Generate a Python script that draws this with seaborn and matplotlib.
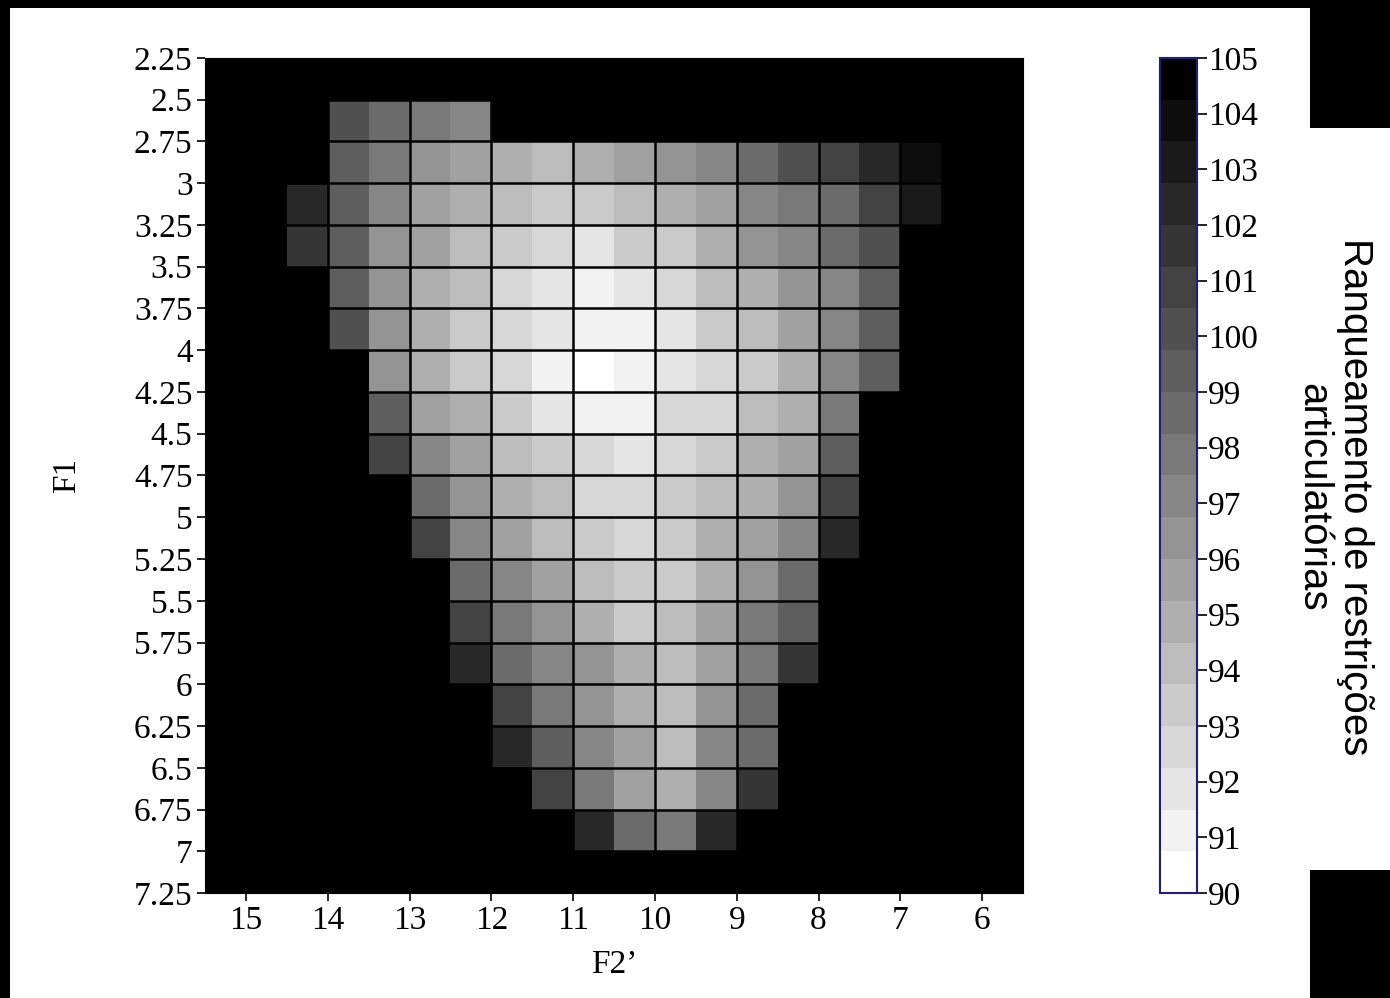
import numpy as np
import pandas as pd
import seaborn as sns
import matplotlib.pyplot as plt
from matplotlib.colors import ListedColormap
from matplotlib.patches import Rectangle

# cell centres (F2' cells are 0.5 wide, F1 cells 0.25 high)
f2_centres = [15.25, 14.75, 14.25, 13.75, 13.25, 12.75, 12.25, 11.75, 11.25, 10.75,
              10.25, 9.75, 9.25, 8.75, 8.25, 7.75, 7.25, 6.75, 6.25, 5.75]
f1_centres = [2.375, 2.625, 2.875, 3.125, 3.375, 3.625, 3.875, 4.125, 4.375, 4.625,
              4.875, 5.125, 5.375, 5.625, 5.875, 6.125, 6.375, 6.625, 6.875, 7.125]

# rows that hold values: F1 centre, F2' centre of the first (leftmost) cell, ranks left to right
row_f1 = [2.625, 2.875, 3.125, 3.375, 3.625, 3.875, 4.125, 4.375, 4.625,
          4.875, 5.125, 5.375, 5.625, 5.875, 6.125, 6.375, 6.625, 6.875]
row_first_f2 = [13.75, 13.75, 14.25, 14.25, 13.75, 13.75, 13.25, 13.25, 13.25,
                12.75, 12.75, 12.25, 12.25, 12.25, 11.75, 11.75, 11.25, 10.75]
row_rank = [
    [100.1, 98.6, 97.9, 97.1],
    [99.4, 97.9, 96.4, 95.6, 94.9, 94.1, 94.9, 95.6, 96.4, 97.1, 98.6, 100.1, 100.9, 102.4, 103.9],
    [102.4, 99.4, 97.1, 95.6, 94.9, 94.1, 93.4, 93.4, 94.1, 94.9, 95.6, 97.1, 97.9, 98.6, 100.9, 103.1],
    [101.6, 99.4, 96.4, 95.6, 94.1, 93.4, 92.6, 91.9, 93.4, 93.4, 94.9, 96.4, 97.1, 98.6, 100.1],
    [99.4, 96.4, 94.9, 94.1, 92.6, 91.9, 91.1, 91.9, 92.6, 94.1, 94.9, 96.4, 97.1, 99.4],
    [100.1, 96.4, 94.9, 93.4, 92.6, 91.9, 91.1, 91.1, 91.9, 93.4, 94.1, 95.6, 97.1, 99.4],
    [96.4, 94.9, 93.4, 92.6, 91.1, 90.4, 91.1, 91.9, 92.6, 93.4, 94.9, 97.1, 99.4],
    [99.4, 95.6, 94.9, 93.4, 91.9, 91.1, 91.1, 92.6, 92.6, 94.1, 94.9, 97.9],
    [100.9, 97.1, 95.6, 94.1, 93.4, 92.6, 91.9, 92.6, 93.4, 94.9, 95.6, 99.4],
    [98.6, 96.4, 94.9, 94.1, 92.6, 92.6, 93.4, 94.1, 94.9, 96.4, 100.9],
    [100.9, 97.1, 95.6, 94.1, 93.4, 92.6, 93.4, 94.9, 95.6, 97.1, 102.4],
    [98.6, 97.1, 95.6, 94.1, 93.4, 93.4, 94.9, 96.4, 98.6],
    [100.9, 97.9, 96.4, 94.9, 93.4, 94.1, 95.6, 97.9, 99.4],
    [102.4, 98.6, 97.1, 96.4, 94.9, 94.1, 95.6, 97.9, 101.6],
    [100.9, 97.9, 96.4, 94.9, 94.1, 96.4, 98.6],
    [102.4, 99.4, 97.1, 95.6, 94.1, 97.1, 98.6],
    [100.9, 97.9, 95.6, 94.9, 97.1, 101.6],
    [102.4, 98.6, 97.9, 102.4],
]

f2_ticks = [15, 14, 13, 12, 11, 10, 9, 8, 7, 6]
f1_ticks = [2.25, 2.5, 2.75, 3, 3.25, 3.5, 3.75, 4, 4.25, 4.5, 4.75,
            5, 5.25, 5.5, 5.75, 6, 6.25, 6.5, 6.75, 7, 7.25]
cbar_ticks = [90, 91, 92, 93, 94, 95, 96, 97, 98, 99, 100, 101, 102, 103, 104, 105]

grid = pd.DataFrame(np.nan, index=f1_centres, columns=f2_centres)
for f1, f2, vals in zip(row_f1, row_first_f2, row_rank):
    c0 = f2_centres.index(f2)
    grid.loc[f1, f2_centres[c0:c0 + len(vals)]] = vals

sns.set_style('ticks')
plt.rcParams['font.family'] = ['Liberation Serif', 'DejaVu Serif']
plt.rcParams.update({'text.color': 'black', 'axes.labelcolor': 'black',
                     'xtick.color': 'black', 'ytick.color': 'black'})

fig = plt.figure(figsize=(13.9, 9.98), dpi=100)
ax = fig.add_axes([0.1475, 0.1052, 0.5885, 0.8367])
cax = fig.add_axes([0.8345, 0.1052, 0.0266, 0.8367])
ax.set_facecolor('black')

greys = ListedColormap(plt.cm.gray_r(np.linspace(0, 1, 20)))  # 20 discrete grey steps
sns.heatmap(grid, cmap=greys, vmin=90, vmax=105, ax=ax, cbar_ax=cax,
            xticklabels=False, yticklabels=False)

# black grid: every F1 row, every whole F2' unit
for i in range(len(f1_centres) + 1):
    ax.axhline(i, color='black', lw=1.8)
f2_left = f2_centres[0] + 0.25
for v in f2_ticks:
    ax.axvline((f2_left - v) / 0.5, color='black', lw=1.8)

f1_top = f1_centres[0] - 0.125
ax.set_xticks([(f2_left - v) / 0.5 for v in f2_ticks])
ax.set_xticklabels([f"{v:g}" for v in f2_ticks], rotation=0)
ax.set_yticks([(v - f1_top) / 0.25 for v in f1_ticks])
ax.set_yticklabels([f"{v:g}" for v in f1_ticks], rotation=0)
ax.tick_params(bottom=True, left=True, direction='out', length=6, width=1.2,
               labelsize=24, pad=3, color='black', labelcolor='black')
for s in ax.spines.values():
    s.set_visible(True)
    s.set_color('black')

ax.set_xlabel("F2’", fontsize=24, color='black')
ax.xaxis.set_label_coords(0.5, -0.068)
ax.set_ylabel("F1", fontsize=24, color='black')
ax.yaxis.set_label_coords(-0.15, 0.5)

cbar = ax.collections[0].colorbar
cbar.set_ticks(cbar_ticks)
cbar.set_ticklabels([str(t) for t in cbar_ticks])
cbar.outline.set_visible(True)
cbar.outline.set_edgecolor('#1c1c8a')
cbar.outline.set_linewidth(1.5)
cax.tick_params(right=True, direction='out', length=7, width=1.2, labelsize=24, pad=1,
                color='black', labelcolor='black')

fig.text(1334 / 1390, 1 - 497 / 998, "Ranqueamento de restrições\narticulatórias",
         rotation=270, ha='center', va='center', multialignment='center',
         linespacing=1.1, fontsize=29, color='black',
         family=['Liberation Sans', 'DejaVu Sans'])

# dark border pieces around the original screenshot
for x0, y0, w, h in [(0, 0, 1310, 8), (0, 0, 10, 998), (1310, 0, 80, 128), (1310, 870, 80, 128)]:
    fig.add_artist(Rectangle((x0 / 1390, 1 - (y0 + h) / 998), w / 1390, h / 998,
                             transform=fig.transFigure, color='black', lw=0))

fig.savefig('out.png', dpi=100)
